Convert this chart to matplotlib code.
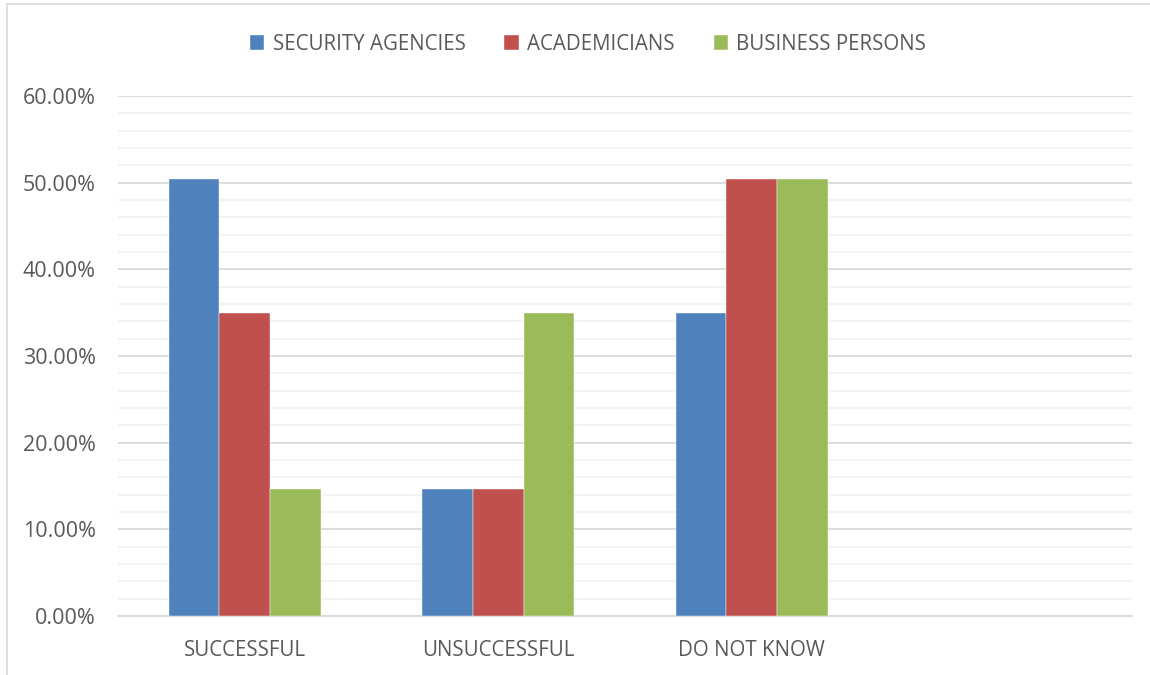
import matplotlib
matplotlib.use("Agg")
import matplotlib.pyplot as plt
from matplotlib.patches import Rectangle
import numpy as np

categories = ["SUCCESSFUL", "UNSUCCESSFUL", "DO NOT KNOW", ""]
series_names = ["SECURITY AGENCIES", "ACADEMICIANS", "BUSINESS PERSONS"]
security = [50.4, 14.6, 35.0, np.nan]
academicians = [35.0, 14.6, 50.4, np.nan]
business = [14.6, 35.0, 50.4, np.nan]
colors = ["#4F81BD", "#C0504D", "#9BBB59"]

plt.rcParams['font.family'] = ['Open Sans', 'DejaVu Sans']

W, H = 1150, 675
fig = plt.figure(figsize=(W / 100, H / 100), dpi=100)
ax = fig.add_axes([118 / W, 1 - 616 / H, (1132 - 118) / W, (616 - 96) / H])

# chart frame border
fig.patches.append(Rectangle((7 / W, -0.01), 1.02, (675 - 4) / H + 0.01, transform=fig.transFigure,
                             fill=False, edgecolor="#D9D9D9", linewidth=1.2))

x = np.arange(len(categories))
w = 0.2
for i, (vals, name, c) in enumerate(zip([security, academicians, business], series_names, colors)):
    ax.bar(x + (i - 1) * w, vals, width=w, color=c, label=name, zorder=3,
           edgecolor="white", linewidth=0.3)

ax.set_xlim(-0.5, 3.5)
ax.set_ylim(0, 60)
ax.set_yticks(np.arange(0, 61, 10))
ax.set_yticklabels([f"{v:.2f}%" for v in np.arange(0, 61, 10)])
ax.set_yticks(np.arange(0, 61, 2), minor=True)
ax.grid(axis='y', which='major', color="#D9D9D9", linewidth=1.3, zorder=0)
ax.grid(axis='y', which='minor', color="#F2F2F2", linewidth=1.3, zorder=0)
ax.set_xticks(x)
ax.set_xticklabels(categories)
ax.tick_params(axis='both', which='both', length=0, labelcolor="#595959")
ax.tick_params(axis='x', pad=17, labelsize=14.8)
ax.tick_params(axis='y', pad=16, labelsize=15.5)
for s in ["top", "right", "left"]:
    ax.spines[s].set_visible(False)
ax.spines["bottom"].set_color("#D9D9D9")
ax.spines["bottom"].set_linewidth(1.3)

fig.legend(loc="center", bbox_to_anchor=(588 / W, 1 - 44 / H), ncol=3, frameon=False,
           fontsize=14.8, labelcolor="#595959", handlelength=0.7, handleheight=0.7,
           handletextpad=0.4, columnspacing=1.9)

fig.savefig("out.png", dpi=100, facecolor="white")
